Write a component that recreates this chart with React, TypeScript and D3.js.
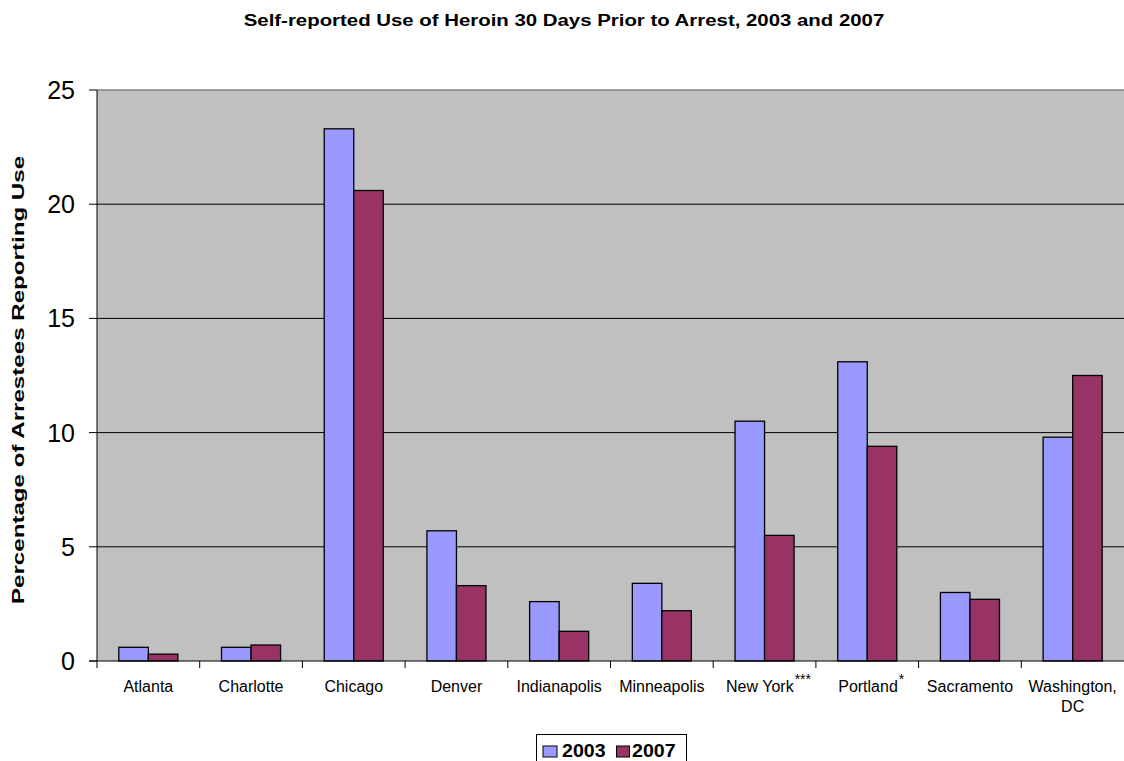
import React from "react";
import * as d3 from "d3";

const categories = ["Atlanta", "Charlotte", "Chicago", "Denver", "Indianapolis", "Minneapolis", "New York", "Portland", "Sacramento", "Washington, DC"];
const labelLines: string[][] = [["Atlanta"], ["Charlotte"], ["Chicago"], ["Denver"], ["Indianapolis"], ["Minneapolis"], ["New York"], ["Portland"], ["Sacramento"], ["Washington,", "DC"]];
const labelSup = ["", "", "", "", "", "", "***", "*", "", ""];
const values2003 = [0.6, 0.6, 23.3, 5.7, 2.6, 3.4, 10.5, 13.1, 3.0, 9.8];
const values2007 = [0.3, 0.7, 20.6, 3.3, 1.3, 2.2, 5.5, 9.4, 2.7, 12.5];
const seriesNames = ["2003", "2007"];
const seriesColors = ["#9999FF", "#993366"];
const yTicks = [0, 5, 10, 15, 20, 25];

const W = 1124, H = 761;
const left = 97, right = 1124, top = 90, bottom = 661;

export default function App() {
  const x = d3.scaleBand<string>().domain(categories).range([left, right]).paddingInner(0).paddingOuter(0);
  const y = d3.scaleLinear().domain([0, 25]).range([bottom, top]);
  const bw = x.bandwidth();
  const barW = bw * 0.2875;
  const inner = d3.scaleBand<string>().domain(seriesNames).range([0, barW * 2]);
  const groupOff = (bw - barW * 2) / 2;
  const series = [values2003, values2007];
  const font = "Arial, 'Liberation Sans', sans-serif";

  return (
    <svg width={W} height={H} style={{ position: "absolute", left: 0, top: 0, display: "block" }} fontFamily={font}>
      <rect x={0} y={0} width={W} height={H} fill="#fff" />
      <text transform={`translate(${W / 2 + 2},26) scale(1.2,1)`} textAnchor="middle" fontSize={17} fontWeight="bold">Self-reported Use of Heroin 30 Days Prior to Arrest, 2003 and 2007</text>
      <rect x={left} y={top} width={right - left} height={bottom - top} fill="#C0C0C0" />
      <line x1={left} x2={right} y1={top} y2={top} stroke="#808080" strokeWidth={1.5} />
      {yTicks.filter(t => t > 0 && t < 25).map(t => (
        <line key={t} x1={left} x2={right} y1={y(t)} y2={y(t)} stroke="#000" strokeWidth={1} />
      ))}
      {categories.map((c, i) => (
        <g key={c}>
          {series.map((vals, s) => (
            <rect key={s} x={x(c)! + groupOff + inner(seriesNames[s])!} y={y(vals[i])} width={inner.bandwidth()} height={y(0) - y(vals[i])} fill={seriesColors[s]} stroke="#000" strokeWidth={1.3} />
          ))}
        </g>
      ))}
      <line x1={left} x2={left} y1={top} y2={bottom} stroke="#000" strokeWidth={1} />
      <line x1={left - 8} x2={right} y1={bottom} y2={bottom} stroke="#000" strokeWidth={1} />
      {yTicks.map(t => (
        <g key={t}>
          <line x1={left - 8} x2={left} y1={y(t)} y2={y(t)} stroke="#000" />
          <text x={75} y={y(t)} dy="0.36em" textAnchor="end" fontSize={25}>{t}</text>
        </g>
      ))}
      {categories.map((c) => (
        <line key={c} x1={x(c)!} x2={x(c)!} y1={bottom} y2={bottom + 7} stroke="#000" />
      ))}
      {categories.map((c, i) => (
        <text key={c} x={x(c)! + bw / 2 + (labelSup[i] ? 4 : 0)} y={692} textAnchor="middle" fontSize={16}>
          {labelLines[i].map((ln, k) => (
            <tspan key={k} x={x(c)! + bw / 2 + (labelSup[i] ? 4 : 0)} dy={k === 0 ? 0 : 20}>{ln}</tspan>
          ))}
          {labelSup[i] ? <tspan dx={1} dy={-8} fontSize={14}>{labelSup[i]}</tspan> : null}
        </text>
      ))}
      <text transform={`translate(24,380) rotate(-90) scale(1.42,1)`} textAnchor="middle" fontSize={17} fontWeight="bold">Percentage of Arrestees Reporting Use</text>
      <g>
        <rect x={536.5} y={734.5} width={150} height={30} fill="#fff" stroke="#000" strokeWidth={1} />
        <rect x={543} y={746} width={14} height={11} fill={seriesColors[0]} stroke="#000" strokeWidth={1} />
        <text transform="translate(562,757) scale(1.12,1)" fontSize={17.5} fontWeight="bold">{seriesNames[0]}</text>
        <rect x={616.5} y={746} width={13} height={11} fill={seriesColors[1]} stroke="#000" strokeWidth={1} />
        <text transform="translate(632,757) scale(1.12,1)" fontSize={17.5} fontWeight="bold">{seriesNames[1]}</text>
      </g>
    </svg>
  );
}
